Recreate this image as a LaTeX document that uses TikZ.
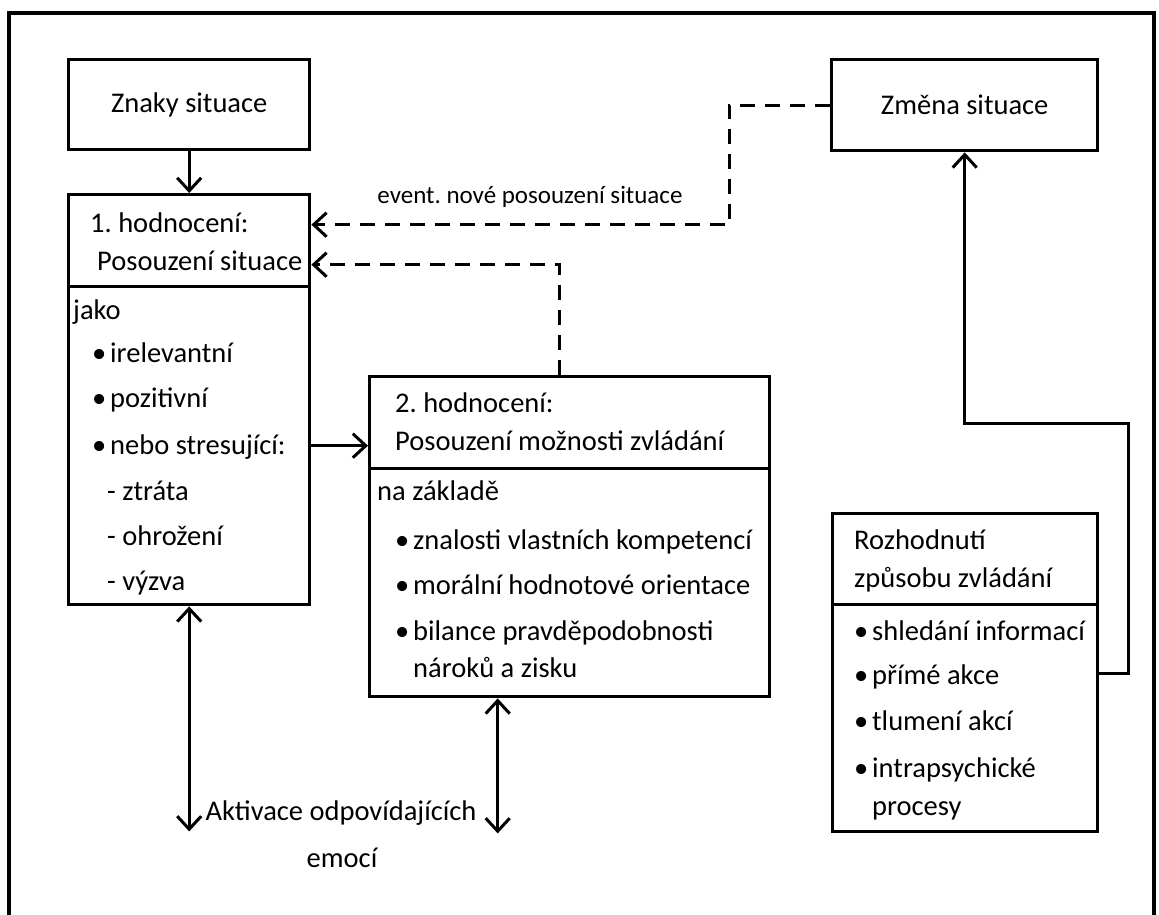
\documentclass[tikz,border=0pt]{standalone}
\usepackage{fontspec}
\setmainfont{Carlito}
\usetikzlibrary{arrows.meta}
\tikzset{box/.style 2 args={draw, line width=3.4pt, minimum width=#1, minimum height=#2,
         anchor=north west, inner sep=0pt, font=\fontsize{28.5}{38}\selectfont},
         txt/.style={anchor=base west, inner sep=0pt, font=\fontsize{28.5}{38}\selectfont},
         tip/.style={-{Straight Barb[length=13pt,width=24pt,line width=3pt]}},
         arr/.style={line width=3pt, tip},
         dasharr/.style={arr, dash pattern=on 15pt off 10pt},
         dblarr/.style={line width=3pt, {Straight Barb[length=13pt,width=24pt,line width=3pt]}-{Straight Barb[length=13pt,width=24pt,line width=3pt]}}}
\newcommand{\bul}{\llap{\textbullet\hspace{4pt}}}
\frenchspacing

\begin{document}
\begin{tikzpicture}[x=1pt,y=-1pt]
  \useasboundingbox (0,0) rectangle (1159,915);
  \draw[line width=3.4pt] (9,930) -- (9,13) -- (1154,13) -- (1154,930);

  \node[box={241}{90}] (znaky) at (67,58) {Znaky situace};
  \node[box={241}{92}] (box1h) at (67,193) {};
  \node[box={241}{318}] (box1b) at (67,285) {};
  \node[box={266}{91}] (zmena) at (830,58) {Změna situace};
  \node[box={400}{92}] (box2h) at (368,375) {};
  \node[box={400}{228}] (box2b) at (368,467) {};
  \node[box={265}{91}] (rozhh) at (831,512) {};
  \node[box={265}{227}] (rozhb) at (831,603) {};

  % texts of the boxes
  \foreach \x/\y/\lbl [count=\i] in {90/232/1. hodnocení:, 97/270/Posouzení situace,
      73/319/jako, 110/362/\bul irelevantní, 110/407/\bul pozitivní,
      110/454/\bul nebo stresující:, 107/500/- ztráta, 107/545/- ohrožení, 107/590/- výzva,
      395/412/2. hodnocení:, 395/450/Posouzení možnosti zvládání, 377/500/na základě,
      413/549/\bul znalosti vlastních kompetencí, 413/594/\bul morální hodnotové orientace,
      413/640/\bul bilance pravděpodobnosti, 413/677/nároků a zisku,
      854/549/Rozhodnutí, 854/587/způsobu zvládání,
      872/640/\bul shledání informací, 872/684/\bul přímé akce, 872/730/\bul tlumení akcí,
      872/777/\bul intrapsychické, 872/815/procesy}
    \node[txt] (t\i) at (\x,\y) {\lbl};

  \node[txt, anchor=base] (akt) at (341,820) {Aktivace odpovídajících};
  \node[txt, anchor=base] (emo) at (342,867) {emocí};
  \node[txt, anchor=base, font=\fontsize{25}{30}\selectfont] (novy) at (530,203) {event. nové posouzení situace};

  \draw[arr] (znaky.south) -- (box1h.north);
  \draw[arr] (box1b.east) -- (box1b.east -| box2h.west);
  \draw[dasharr] (zmena.west) -- ++(-101,0) |- ([yshift=16pt]box1h.east);
  \draw[dasharr] ([xshift=-10pt]box2h.north) |- ([yshift=-24pt]box1h.east);
  \draw[arr] ([yshift=44.5pt]rozhb.east) -- ++(29,0) |- ([yshift=-271pt]zmena.south) -- (zmena.south);
  \draw[dblarr] (box1b.south) -- ++(0,225);
  \draw[dblarr] ([xshift=-72pt]box2b.south) -- ++(0,135);
\end{tikzpicture}
\end{document}
